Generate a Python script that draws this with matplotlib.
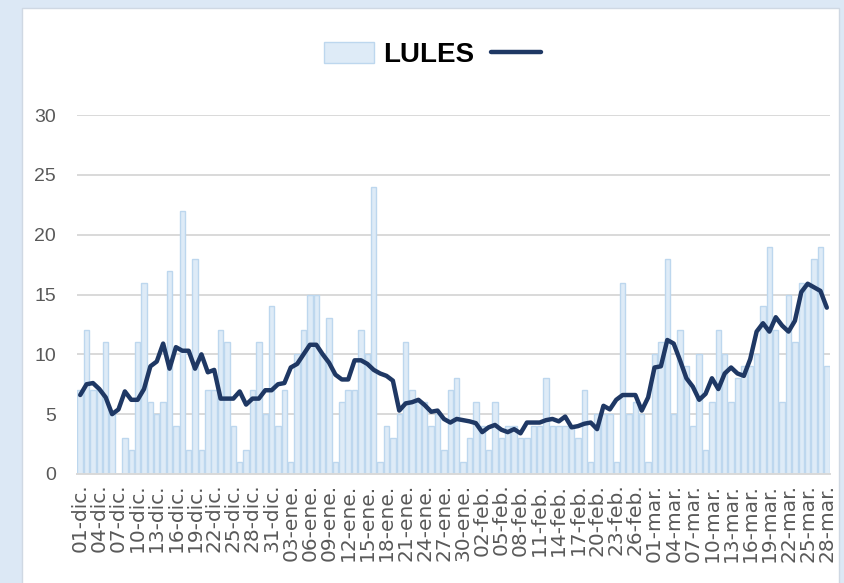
import numpy as np
import pandas as pd
import matplotlib
matplotlib.use("Agg")
import matplotlib.pyplot as plt
from matplotlib.patches import Rectangle
from matplotlib.lines import Line2D


# ============================================================
# DATA
# ============================================================

MESES = {12: "dic.", 1: "ene.", 2: "feb.", 3: "mar."}
fechas = pd.date_range("2020-12-01", "2021-03-28", freq="D")
etiquetas = [f"{d.day:02d}-{MESES[d.month]}" for d in fechas]

# daily counts (bars)
lules = [
    7, 12, 7, 7, 11, 5, 0, 3, 2, 11, 16, 6, 5, 6, 17, 4, 22, 2, 18, 2,
    7, 7, 12, 11, 4, 1, 2, 7, 11, 5, 14, 4, 7, 1, 10, 12, 15, 15, 10, 13,
    1, 6, 7, 7, 12, 10, 24, 1, 4, 3, 5, 11, 7, 6, 6, 4, 5, 2, 7, 8,
    1, 3, 6, 4, 2, 6, 3, 4, 4, 3, 3, 4, 4, 8, 4, 4, 4, 4, 3, 7,
    1, 5, 5, 5, 1, 16, 5, 6, 5, 1, 10, 11, 18, 5, 12, 9, 4, 10, 2, 6,
    12, 10, 6, 8, 9, 9, 10, 14, 19, 12, 6, 15, 11, 16, 16, 18, 19, 9,
]

# smoothed trend (line)
tendencia = [
    6.6, 7.5, 7.6, 7.1, 6.4, 5.0, 5.4, 6.9, 6.2, 6.2, 7.1, 9.0, 9.4, 10.9, 8.8, 10.6, 10.3, 10.3, 8.8, 10.0,
    8.5, 8.7, 6.3, 6.3, 6.3, 6.9, 5.8, 6.3, 6.3, 7.0, 7.0, 7.5, 7.6, 8.9, 9.2, 10.0, 10.8, 10.8, 10.0, 9.3,
    8.3, 7.9, 7.9, 9.5, 9.5, 9.2, 8.7, 8.4, 8.2, 7.8, 5.3, 5.9, 6.0, 6.2, 5.75, 5.2, 5.3, 4.6, 4.3, 4.6,
    4.5, 4.4, 4.25, 3.5, 3.9, 4.1, 3.7, 3.5, 3.75, 3.4, 4.3, 4.3, 4.3, 4.5, 4.6, 4.4, 4.8, 3.9, 4.0, 4.2,
    4.3, 3.75, 5.7, 5.4, 6.2, 6.6, 6.6, 6.6, 5.3, 6.4, 8.9, 9.0, 11.2, 10.9, 9.5, 8.0, 7.3, 6.2, 6.7, 8.0,
    7.1, 8.4, 8.9, 8.4, 8.2, 9.6, 11.9, 12.6, 11.9, 13.1, 12.4, 11.9, 12.8, 15.2, 15.9, 15.6, 15.3, 13.9,
]

Y_TICKS = [0, 5, 10, 15, 20, 25, 30]

# ============================================================
# STYLE
# ============================================================

BAR_FACE = "#deebf7"
BAR_EDGE = "#bdd7ee"
LINE_COLOR = "#1f3864"
GRID_COLOR = "#d9d9d9"
TEXT_GRAY = "#595959"
OUTER_BG = "#dce8f5"

SANS = ["Liberation Sans", "DejaVu Sans"]

fig = plt.figure(figsize=(8.44, 5.83), dpi=100)
fig.patch.set_facecolor(OUTER_BG)

# white chart panel sitting on the blue frame (kept behind the axes)
panel = Rectangle((22 / 844, -0.01), (839 - 22) / 844, 1 - 8 / 583 + 0.01,
                  transform=fig.transFigure, facecolor="white",
                  edgecolor="#cfd8e3", linewidth=1.0, zorder=-10)
fig.patches.append(panel)

ax = fig.add_axes([77 / 844, 1 - 474 / 583, (830 - 77) / 844, (474 - 115) / 583])
ax.set_facecolor("none")
ax.set_zorder(1)

x = np.arange(len(lules))
bars = ax.bar(x, lules, width=0.85, color=BAR_FACE, edgecolor=BAR_EDGE,
              linewidth=1.0, zorder=2)
line, = ax.plot(x, tendencia, color=LINE_COLOR, linewidth=3.2,
                solid_joinstyle="round", solid_capstyle="round", zorder=3)

ax.set_xlim(-0.5, len(lules) - 0.5)
ax.set_ylim(0, 30)
ax.set_yticks(Y_TICKS)
ax.set_yticklabels([str(v) for v in Y_TICKS], family=SANS, fontsize=14,
                   color=TEXT_GRAY)
ax.yaxis.grid(True, color=GRID_COLOR, linewidth=1.4, zorder=0)
ax.set_axisbelow(True)

ax.set_xticks(x[::3])
ax.set_xticklabels(etiquetas[::3], rotation=90, fontsize=14.5,
                   family="DejaVu Sans", color=TEXT_GRAY, va="top", ha="center")
ax.tick_params(axis="both", length=0)
ax.tick_params(axis="x", pad=7)
ax.tick_params(axis="y", pad=15)

for side in ("top", "right", "left"):
    ax.spines[side].set_visible(False)
ax.spines["bottom"].set_color(GRID_COLOR)
ax.spines["bottom"].set_linewidth(1.4)

# legend: bar series named, trend line unnamed
legend_line = Line2D([], [], color=LINE_COLOR, linewidth=3.2,
                     solid_capstyle="round")
fig.legend([bars, legend_line], ["LULES", ""], loc="center",
           bbox_to_anchor=(0.518, 1 - 55 / 583), ncol=2, frameon=False,
           prop={"family": SANS, "weight": "bold", "size": 20},
           handlelength=1.8, handleheight=0.8, handletextpad=0.35,
           columnspacing=0.6)

fig.savefig("out.png", dpi=100, facecolor=fig.get_facecolor())
